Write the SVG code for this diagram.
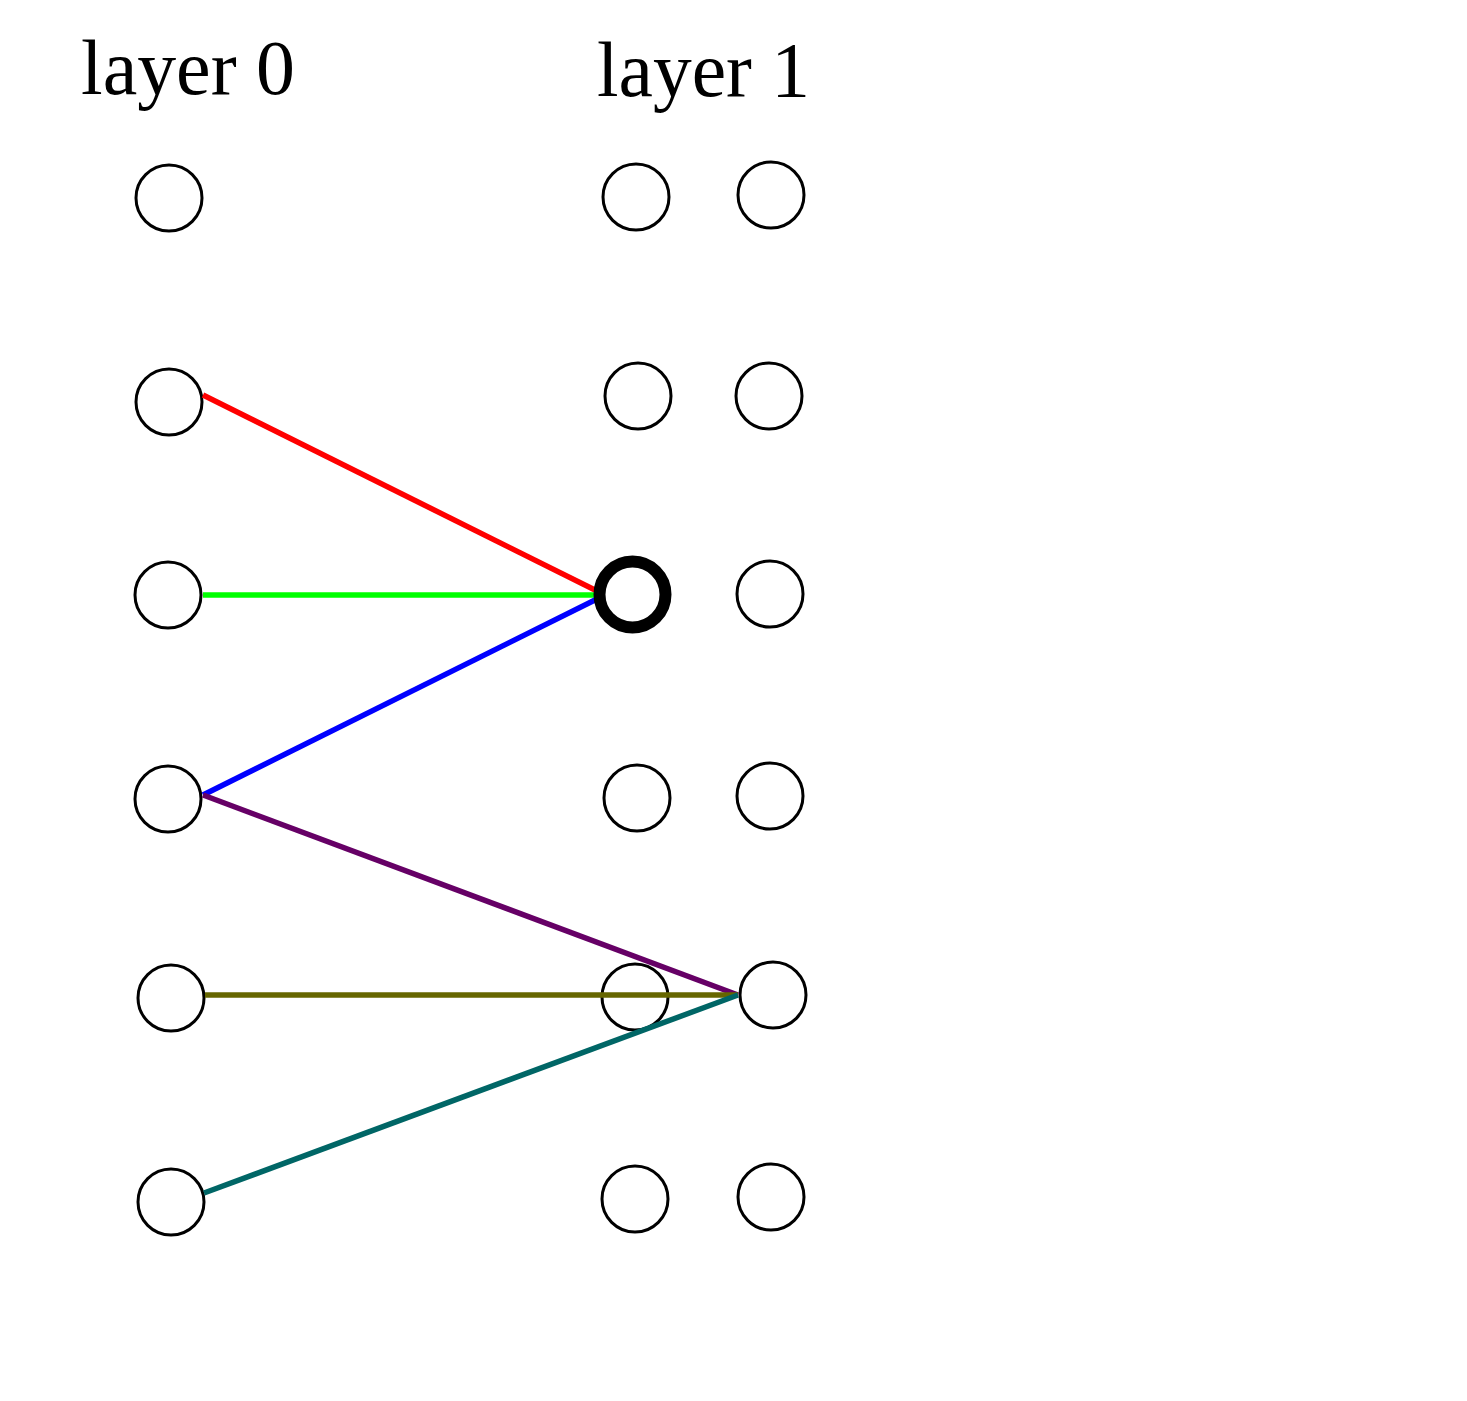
<svg xmlns="http://www.w3.org/2000/svg" width="1467" height="1401" viewBox="0 0 1467 1401">
<style>
.n{fill:#fff;stroke:#000;stroke-width:3}
.t{font-family:"Liberation Serif","DejaVu Serif",serif;font-size:78px;fill:#000}
.e{stroke-width:5.5;fill:none}
</style>
<rect width="1467" height="1401" fill="#fff"/>
<text class="t" x="81" y="94" textLength="214" lengthAdjust="spacingAndGlyphs">layer 0</text>
<text class="t" x="597" y="96" textLength="213" lengthAdjust="spacingAndGlyphs">layer 1</text>
<g id="l0">
<circle id="a0" class="n" cx="169" cy="198" r="33"/>
<circle id="a1" class="n" cx="169" cy="402" r="33"/>
<circle id="a2" class="n" cx="168" cy="595" r="33"/>
<circle id="a3" class="n" cx="168" cy="799" r="33"/>
<circle id="a4" class="n" cx="171" cy="998" r="33"/>
<circle id="a5" class="n" cx="171" cy="1202" r="33"/>
</g>
<g id="l1a">
<circle id="b0" class="n" cx="636" cy="197" r="33"/>
<circle id="b1" class="n" cx="638" cy="396" r="33"/>
<circle id="b3" class="n" cx="637" cy="798" r="33"/>
<circle id="b4" class="n" cx="635" cy="997" r="33"/>
<circle id="b5" class="n" cx="635" cy="1199" r="33"/>
</g>
<g id="l1b">
<circle id="c0" class="n" cx="771" cy="195" r="33"/>
<circle id="c1" class="n" cx="769" cy="396" r="33"/>
<circle id="c2" class="n" cx="770" cy="594" r="33"/>
<circle id="c3" class="n" cx="770" cy="796" r="33"/>
<circle id="c4" class="n" cx="773" cy="995" r="33"/>
<circle id="c5" class="n" cx="771" cy="1197" r="33"/>
</g>
<g id="edges">
<line class="e" stroke="#ff0000" x1="203" y1="395" x2="601" y2="593"/>
<line class="e" stroke="#00ff00" x1="203" y1="595" x2="603" y2="595"/>
<line class="e" stroke="#0000ff" x1="203" y1="795" x2="601" y2="597"/>
<line class="e" stroke="#660066" x1="203" y1="795" x2="738" y2="995"/>
<line class="e" stroke="#666600" x1="205" y1="995" x2="738" y2="995"/>
<line class="e" stroke="#006666" x1="204" y1="1193" x2="738" y2="995"/>
</g>
<g id="b2">
<circle class="n" cx="632.5" cy="594.5" r="33" style="stroke-width:12"/>
</g>
</svg>
